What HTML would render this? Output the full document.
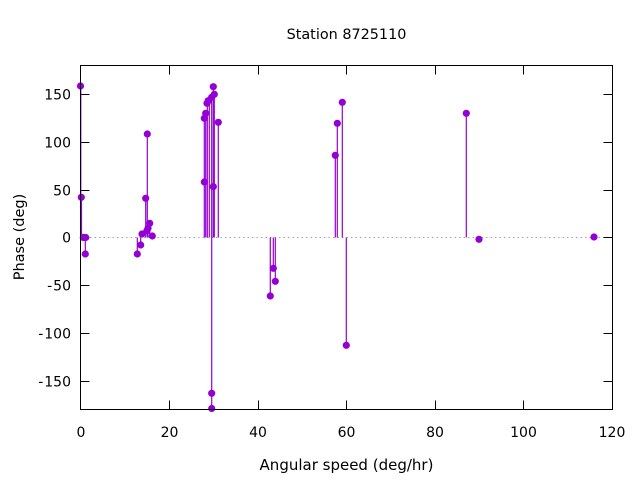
<!DOCTYPE html>
<html><head><meta charset="utf-8"><style>
html,body{margin:0;padding:0;background:#fff;}
svg{display:block;}
text{font-family:"DejaVu Sans","Liberation Sans",sans-serif;font-size:14px;fill:#000;}
</style></head><body>
<svg width="640" height="480" viewBox="0 0 640 480" xmlns="http://www.w3.org/2000/svg">
<rect width="640" height="480" fill="#fff"/>
<!-- zero line -->
<line x1="81" y1="237.5" x2="612" y2="237.5" stroke="#a0a0a0" stroke-width="1" stroke-dasharray="1.5 3"/>
<!-- ticks -->
<g stroke="#000" stroke-width="1">
<line x1="80.5" y1="94.5" x2="89.5" y2="94.5"/><line x1="612.5" y1="94.5" x2="603.5" y2="94.5"/>
<line x1="80.5" y1="142.5" x2="89.5" y2="142.5"/><line x1="612.5" y1="142.5" x2="603.5" y2="142.5"/>
<line x1="80.5" y1="190.5" x2="89.5" y2="190.5"/><line x1="612.5" y1="190.5" x2="603.5" y2="190.5"/>
<line x1="80.5" y1="237.5" x2="89.5" y2="237.5"/><line x1="612.5" y1="237.5" x2="603.5" y2="237.5"/>
<line x1="80.5" y1="285.5" x2="89.5" y2="285.5"/><line x1="612.5" y1="285.5" x2="603.5" y2="285.5"/>
<line x1="80.5" y1="333.5" x2="89.5" y2="333.5"/><line x1="612.5" y1="333.5" x2="603.5" y2="333.5"/>
<line x1="80.5" y1="381.5" x2="89.5" y2="381.5"/><line x1="612.5" y1="381.5" x2="603.5" y2="381.5"/>
<line x1="169.5" y1="409.5" x2="169.5" y2="400.5"/><line x1="169.5" y1="65.5" x2="169.5" y2="74.5"/>
<line x1="258.5" y1="409.5" x2="258.5" y2="400.5"/><line x1="258.5" y1="65.5" x2="258.5" y2="74.5"/>
<line x1="346.5" y1="409.5" x2="346.5" y2="400.5"/><line x1="346.5" y1="65.5" x2="346.5" y2="74.5"/>
<line x1="435.5" y1="409.5" x2="435.5" y2="400.5"/><line x1="435.5" y1="65.5" x2="435.5" y2="74.5"/>
<line x1="523.5" y1="409.5" x2="523.5" y2="400.5"/><line x1="523.5" y1="65.5" x2="523.5" y2="74.5"/>
</g>
<!-- stems -->
<g stroke="#9400d3" stroke-width="1.2">
<line x1="80.8" y1="237.5" x2="80.8" y2="86"/>
<line x1="81.5" y1="237.5" x2="81.5" y2="197.3"/>
<line x1="85.3" y1="237.5" x2="85.3" y2="254"/>
<line x1="137.3" y1="237.5" x2="137.3" y2="254"/>
<line x1="140.7" y1="237.5" x2="140.7" y2="245"/>
<line x1="142" y1="237.5" x2="142" y2="234"/>
<line x1="145.7" y1="237.5" x2="145.7" y2="198.3"/>
<line x1="147.3" y1="237.5" x2="147.3" y2="134"/>
<line x1="148" y1="237.5" x2="148" y2="228.3"/>
<line x1="149.7" y1="237.5" x2="149.7" y2="223.3"/>
<line x1="152.3" y1="237.5" x2="152.3" y2="236"/>
<line x1="204.3" y1="237.5" x2="204.3" y2="118.3"/>
<line x1="205.7" y1="237.5" x2="205.7" y2="113.3"/>
<line x1="207.3" y1="237.5" x2="207.3" y2="103.3"/>
<line x1="209.3" y1="237.5" x2="209.3" y2="100.7"/>
<line x1="211.7" y1="237.5" x2="211.7" y2="97.3"/>
<line x1="213.3" y1="237.5" x2="213.3" y2="86.7"/>
<line x1="214.3" y1="237.5" x2="214.3" y2="94.3"/>
<line x1="218.3" y1="237.5" x2="218.3" y2="122.3"/>
<line x1="211.7" y1="237.5" x2="211.7" y2="408.5"/>
<line x1="270.3" y1="237.5" x2="270.3" y2="296"/>
<line x1="273.3" y1="237.5" x2="273.3" y2="268.3"/>
<line x1="275.3" y1="237.5" x2="275.3" y2="281.3"/>
<line x1="335.3" y1="237.5" x2="335.3" y2="155.3"/>
<line x1="337.3" y1="237.5" x2="337.3" y2="123.3"/>
<line x1="342.3" y1="237.5" x2="342.3" y2="102.3"/>
<line x1="346.3" y1="237.5" x2="346.3" y2="345.3"/>
<line x1="466.3" y1="237.5" x2="466.3" y2="113.3"/>
<line x1="479" y1="237.5" x2="479" y2="239.3"/>
</g>
<!-- points -->
<g fill="#9400d3">
<circle cx="80.5" cy="86" r="3.6"/>
<circle cx="81.3" cy="197.3" r="3.6"/>
<circle cx="83.3" cy="237.5" r="3.6"/>
<circle cx="85.7" cy="237.5" r="3.6"/>
<circle cx="85.3" cy="254" r="3.6"/>
<circle cx="137.3" cy="254" r="3.6"/>
<circle cx="140.7" cy="245" r="3.6"/>
<circle cx="142" cy="234" r="3.6"/>
<circle cx="145.7" cy="198.3" r="3.6"/>
<circle cx="147.3" cy="134" r="3.6"/>
<circle cx="147" cy="230.7" r="3.6"/>
<circle cx="148" cy="228.3" r="3.6"/>
<circle cx="149.7" cy="223.3" r="3.6"/>
<circle cx="152.3" cy="236" r="3.6"/>
<circle cx="204.3" cy="118.3" r="3.6"/>
<circle cx="205.7" cy="113.3" r="3.6"/>
<circle cx="207" cy="103.3" r="3.6"/>
<circle cx="208.3" cy="100.7" r="3.6"/>
<circle cx="211.7" cy="97.3" r="3.6"/>
<circle cx="213.3" cy="86.7" r="3.6"/>
<circle cx="214.3" cy="94.3" r="3.6"/>
<circle cx="218.3" cy="122.3" r="3.6"/>
<circle cx="204.3" cy="182" r="3.6"/>
<circle cx="213.3" cy="186.7" r="3.6"/>
<circle cx="211.7" cy="393.3" r="3.6"/>
<circle cx="211.7" cy="408.5" r="3.6"/>
<circle cx="270.3" cy="296" r="3.6"/>
<circle cx="273.3" cy="268.3" r="3.6"/>
<circle cx="275.3" cy="281.3" r="3.6"/>
<circle cx="335.3" cy="155.3" r="3.6"/>
<circle cx="337.3" cy="123.3" r="3.6"/>
<circle cx="342.3" cy="102.3" r="3.6"/>
<circle cx="346.3" cy="345.3" r="3.6"/>
<circle cx="466.3" cy="113.3" r="3.6"/>
<circle cx="479" cy="239.3" r="3.6"/>
<circle cx="594" cy="237" r="3.6"/>
</g>
<!-- border -->
<rect x="80.5" y="65.5" width="532" height="344" fill="none" stroke="#000" stroke-width="1"/>
<!-- y tick labels -->
<g text-anchor="end">
<text x="71" y="99.5">150</text>
<text x="71" y="147.5">100</text>
<text x="71" y="195.5">50</text>
<text x="71" y="242.5">0</text>
<text x="71" y="290.5">-<tspan dx="1">50</tspan></text>
<text x="71" y="338.5">-<tspan dx="1">100</tspan></text>
<text x="71" y="386.5">-<tspan dx="1">150</tspan></text>
</g>
<!-- x tick labels -->
<g text-anchor="middle">
<text x="81" y="437">0</text>
<text x="169.5" y="437">20</text>
<text x="258" y="437">40</text>
<text x="346.5" y="437">60</text>
<text x="435" y="437">80</text>
<text x="523.5" y="437">100</text>
<text x="612" y="437">120</text>
</g>
<text x="346.5" y="39" text-anchor="middle" style="font-size:14.4px">Station 8725110</text>
<text x="346.5" y="470" text-anchor="middle" style="font-size:15px">Angular speed (deg/hr)</text>
<text x="0" y="0" text-anchor="middle" style="font-size:14.5px" transform="translate(24,237) rotate(-90)">Phase (deg)</text>
</svg>
</body></html>
